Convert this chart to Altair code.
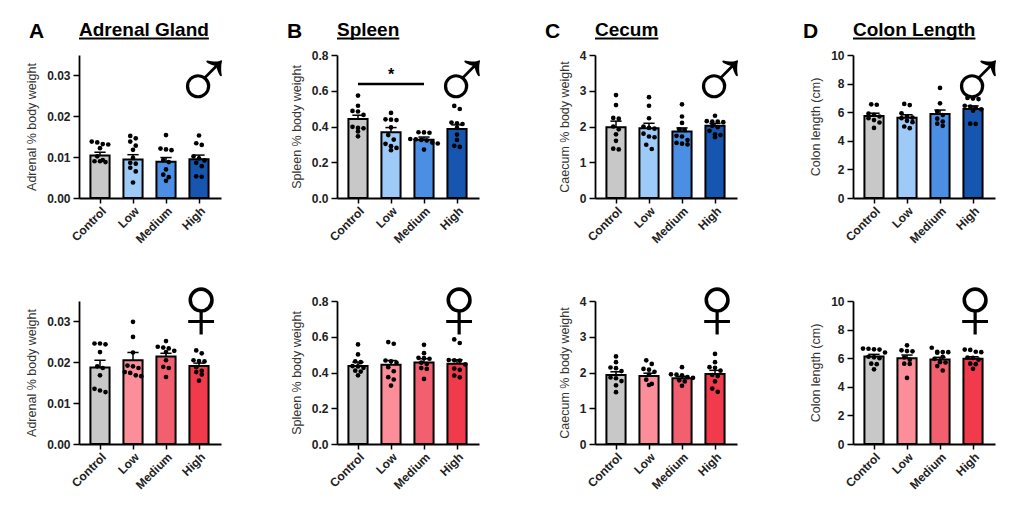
import altair as alt
import pandas as pd

groups = ['Control', 'Low', 'Medium', 'High']

# A - adrenal gland (% body weight)
adrenal_m_mean = [0.0104, 0.0094, 0.0089, 0.0095]
adrenal_m_sem = [0.0008, 0.0012, 0.0010, 0.0010]
adrenal_m_pts = [
    [0.0138, 0.0136, 0.0132, 0.0131, 0.0122, 0.0102, 0.0093, 0.0090, 0.0090, 0.0088],
    [0.0152, 0.0146, 0.0138, 0.0128, 0.0118, 0.0098, 0.0086, 0.0084, 0.0074, 0.0065, 0.0038],
    [0.0154, 0.0121, 0.0119, 0.0117, 0.0093, 0.0088, 0.0070, 0.0057, 0.0051, 0.0042],
    [0.0153, 0.0134, 0.0130, 0.0102, 0.0097, 0.0092, 0.0086, 0.0078, 0.0053, 0.0052],
]
adrenal_f_mean = [0.0187, 0.0205, 0.0214, 0.0191]
adrenal_f_sem = [0.0018, 0.0019, 0.0008, 0.0007]
adrenal_f_pts = [
    [0.0246, 0.0246, 0.0244, 0.0225, 0.0190, 0.0186, 0.0168, 0.0135, 0.0131, 0.0127],
    [0.0299, 0.0262, 0.0224, 0.0192, 0.0190, 0.0186, 0.0176, 0.0174, 0.0168, 0.0166],
    [0.0252, 0.0238, 0.0236, 0.0234, 0.0228, 0.0225, 0.0205, 0.0189, 0.0186, 0.0164],
    [0.0229, 0.0222, 0.0205, 0.0203, 0.0202, 0.0188, 0.0179, 0.0176, 0.0170, 0.0155],
]

# B - spleen (% body weight)
spleen_m_mean = [0.442, 0.368, 0.326, 0.386]
spleen_m_sem = [0.021, 0.026, 0.015, 0.023]
spleen_m_pts = [
    [0.573, 0.516, 0.487, 0.484, 0.465, 0.398, 0.392, 0.390, 0.372, 0.345],
    [0.476, 0.440, 0.438, 0.436, 0.395, 0.352, 0.327, 0.303, 0.290, 0.280, 0.267],
    [0.368, 0.367, 0.365, 0.330, 0.328, 0.325, 0.322, 0.310, 0.305, 0.271],
    [0.515, 0.498, 0.422, 0.418, 0.414, 0.392, 0.355, 0.325, 0.292, 0.286],
]
spleen_f_mean = [0.437, 0.443, 0.456, 0.449]
spleen_f_sem = [0.021, 0.024, 0.021, 0.022]
spleen_f_pts = [
    [0.557, 0.501, 0.462, 0.458, 0.436, 0.434, 0.426, 0.410, 0.405, 0.384],
    [0.570, 0.561, 0.467, 0.463, 0.455, 0.430, 0.407, 0.374, 0.361, 0.327],
    [0.555, 0.508, 0.482, 0.480, 0.477, 0.455, 0.448, 0.425, 0.420, 0.364],
    [0.585, 0.565, 0.470, 0.468, 0.466, 0.445, 0.422, 0.415, 0.383, 0.373],
]
# Control vs Medium, male spleen
spleen_sig = (0, 2, 0.638, 0.688, '*')

# C - cecum (% body weight)
cecum_m_mean = [1.98, 1.95, 1.86, 2.02]
cecum_m_sem = [0.17, 0.14, 0.10, 0.07]
cecum_m_pts = [
    [2.88, 2.60, 2.24, 2.22, 2.00, 1.92, 1.78, 1.60, 1.38, 1.36],
    [2.82, 2.58, 2.23, 2.00, 1.96, 1.94, 1.80, 1.72, 1.70, 1.49, 1.37],
    [2.62, 2.28, 2.10, 1.92, 1.90, 1.74, 1.72, 1.62, 1.54, 1.52, 1.50],
    [2.30, 2.15, 2.14, 2.14, 2.12, 2.02, 1.98, 1.88, 1.78, 1.76, 1.70],
]
cecum_f_mean = [1.93, 1.90, 1.84, 1.96]
cecum_f_sem = [0.09, 0.08, 0.05, 0.10]
cecum_f_pts = [
    [2.45, 2.29, 2.14, 2.12, 2.04, 1.86, 1.84, 1.76, 1.64, 1.45],
    [2.34, 2.24, 2.10, 2.08, 2.02, 1.94, 1.80, 1.68, 1.65],
    [2.15, 1.95, 1.94, 1.92, 1.87, 1.85, 1.78, 1.75, 1.63],
    [2.52, 2.29, 2.15, 2.13, 2.05, 1.93, 1.90, 1.75, 1.55, 1.46],
]

# D - colon length (cm)
colon_m_mean = [5.73, 5.62, 5.87, 6.22]
colon_m_sem = [0.20, 0.20, 0.28, 0.22]
colon_m_pts = [
    [6.55, 6.52, 5.90, 5.82, 5.70, 5.58, 5.45, 5.28, 4.90],
    [6.58, 6.50, 5.92, 5.70, 5.62, 5.58, 5.40, 5.30, 5.00, 4.88],
    [7.70, 6.62, 6.05, 5.80, 5.55, 5.35, 5.20, 5.05],
    [7.00, 6.95, 6.92, 6.45, 6.40, 6.30, 6.20, 6.10, 5.20, 5.18],
]
colon_f_mean = [6.12, 6.00, 5.91, 5.96]
colon_f_sem = [0.15, 0.22, 0.15, 0.14]
colon_f_pts = [
    [6.67, 6.66, 6.62, 6.60, 6.40, 6.10, 6.06, 6.00, 5.62, 5.58, 5.22],
    [6.90, 6.55, 6.50, 6.48, 6.05, 5.90, 5.62, 5.60, 4.62],
    [6.73, 6.45, 6.43, 6.42, 6.38, 6.10, 5.95, 5.72, 5.70, 5.45, 5.14],
    [6.60, 6.58, 6.45, 6.42, 6.05, 6.02, 5.90, 5.62, 5.58, 5.26],
]

male_colors = ['#c8c8c8', '#9dcaf6', '#4a8fe3', '#1656b0']
female_colors = ['#c8c8c8', '#fb8e98', '#f2606f', '#f13a4b']

FONT = 'Liberation Sans'
W, H = 142, 143          # plot area of one panel
STEP, FIRST = 33, 21     # px between bar centres, px from y axis to first centre
HALF_BAR = 0.29
HALF_CAP = 0.17
DOT = 5.5                # dot spacing in px

# rough Arial Bold widths, used only to size the title underline
BOLD_W = {'A': .722, 'C': .722, 'G': .778, 'L': .611, 'S': .667, ' ': .278,
          'a': .556, 'c': .556, 'd': .611, 'e': .556, 'g': .611, 'h': .611,
          'l': .278, 'm': .889, 'n': .611, 'o': .611, 'p': .611, 'r': .389,
          't': .333, 'u': .611}

x_scale = alt.Scale(domain=[-FIRST / STEP, (W - FIRST) / STEP], nice=False, zero=False)
label_expr = '[' + ','.join("'%s'" % g for g in groups) + '][datum.value]'
x_axis = alt.Axis(values=[0, 1, 2, 3], labelExpr=label_expr, labelAngle=-45,
                  labelAlign='right', labelBaseline='top', labelOverlap=False,
                  tickSize=5, labelPadding=2, title=None, grid=False)


def swarm(values, px_per_unit):
    # put dots that would overlap side by side, like a prism scatter
    order = sorted(range(len(values)), key=lambda k: -values[k])
    rows = []
    for k in order:
        if rows and (values[rows[-1][0]] - values[k]) * px_per_unit < DOT - 1:
            rows[-1].append(k)
        else:
            rows.append([k])
    offs = [0.0] * len(values)
    for row in rows:
        n = len(row)
        for j, k in enumerate(row):
            offs[k] = (j - (n - 1) / 2) * DOT
    return offs


def panel(means, sems, pts, colors, ymax, yticks, fmt, ytitle, symbol,
          letter=None, title=None, sig=None):
    y_scale = alt.Scale(domain=[0, ymax], nice=False, zero=True)
    y_axis = alt.Axis(values=yticks, format=fmt, title=ytitle, grid=False,
                      labelOverlap=False, tickSize=6, labelPadding=3, titlePadding=8)

    def X(f):
        return alt.X(f, type='quantitative', scale=x_scale, axis=x_axis)

    def Y(f):
        return alt.Y(f, type='quantitative', scale=y_scale, axis=y_axis)

    bars = pd.DataFrame({'i': range(4), 'mean': means, 'sem': sems, 'color': colors})
    bars['base'] = 0.0
    bars['top'] = bars['mean'] + bars['sem']
    bars['x0'] = bars['i'] - HALF_BAR
    bars['x1'] = bars['i'] + HALF_BAR
    bars['c0'] = bars['i'] - HALF_CAP
    bars['c1'] = bars['i'] + HALF_CAP

    rows = []
    for i, vals in enumerate(pts):
        for v, o in zip(vals, swarm(vals, H / ymax)):
            rows.append({'i': i, 'value': v, 'px': i + o / STEP})
    dots = pd.DataFrame(rows)

    layers = [
        alt.Chart(bars).mark_bar(stroke='black', strokeWidth=2).encode(
            x=X('x0'), x2='x1', y=Y('base'), y2='mean',
            color=alt.Color('color:N', scale=None)),
        alt.Chart(bars).mark_rule(color='black', strokeWidth=1.5).encode(
            x=X('i'), y=Y('mean'), y2='top'),
        alt.Chart(bars).mark_rule(color='black', strokeWidth=1.5).encode(
            x=X('c0'), x2='c1', y=Y('top')),
        alt.Chart(dots).mark_circle(color='black', size=22, opacity=1).encode(
            x=X('px'), y=Y('value')),
    ]

    # sex symbol, thin weight
    male = symbol == '♂'
    layers.append(
        alt.Chart(pd.DataFrame({'s': [symbol]})).mark_text(
            font='DejaVu Sans', fontWeight=200, fontSize=86 if male else 90,
            align='center', baseline='middle', color='black').encode(
            text='s:N', x=alt.value(125 if male else 122), y=alt.value(28 if male else 10)))

    if sig is not None:
        a, b, yline, ystar, mark = sig
        sdf = pd.DataFrame({'a': [a], 'b': [b], 'mid': [(a + b) / 2],
                            'y': [yline], 'ys': [ystar], 't': [mark]})
        layers.append(alt.Chart(sdf).mark_rule(color='black', strokeWidth=2.5).encode(
            x=X('a'), x2='b', y=Y('y')))
        layers.append(alt.Chart(sdf).mark_text(
            fontSize=16, fontWeight='bold', baseline='middle', color='black').encode(
            text='t:N', x=X('mid'), y=Y('ys')))

    if title is not None:
        tdf = pd.DataFrame({'letter': [letter], 'title': [title]})
        uw = sum(BOLD_W.get(c, 0.6) for c in title) * 19
        layers.append(alt.Chart(tdf).mark_text(
            fontSize=21, fontWeight='bold', align='left', baseline='alphabetic',
            color='black').encode(text='letter:N', x=alt.value(-50), y=alt.value(-17)))
        layers.append(alt.Chart(tdf).mark_text(
            fontSize=19, fontWeight='bold', align='left', baseline='alphabetic',
            color='black').encode(text='title:N', x=alt.value(0), y=alt.value(-19)))
        layers.append(alt.Chart(tdf).mark_rule(color='black', strokeWidth=2).encode(
            x=alt.value(0), x2=alt.value(uw), y=alt.value(-16.5)))

    return alt.layer(*layers).properties(width=W, height=H)


top = [
    panel(adrenal_m_mean, adrenal_m_sem, adrenal_m_pts, male_colors, 0.035,
          [0, 0.01, 0.02, 0.03], '.2f', 'Adrenal % body weight', '♂', 'A', 'Adrenal Gland'),
    panel(spleen_m_mean, spleen_m_sem, spleen_m_pts, male_colors, 0.8,
          [0, 0.2, 0.4, 0.6, 0.8], '.1f', 'Spleen % body weight', '♂', 'B', 'Spleen',
          sig=spleen_sig),
    panel(cecum_m_mean, cecum_m_sem, cecum_m_pts, male_colors, 4,
          [0, 1, 2, 3, 4], 'd', 'Caecum % body weight', '♂', 'C', 'Cecum'),
    panel(colon_m_mean, colon_m_sem, colon_m_pts, male_colors, 10,
          [0, 2, 4, 6, 8, 10], 'd', 'Colon length (cm)', '♂', 'D', 'Colon Length'),
]
bottom = [
    panel(adrenal_f_mean, adrenal_f_sem, adrenal_f_pts, female_colors, 0.035,
          [0, 0.01, 0.02, 0.03], '.2f', 'Adrenal % body weight', '♀'),
    panel(spleen_f_mean, spleen_f_sem, spleen_f_pts, female_colors, 0.8,
          [0, 0.2, 0.4, 0.6, 0.8], '.1f', 'Spleen % body weight', '♀'),
    panel(cecum_f_mean, cecum_f_sem, cecum_f_pts, female_colors, 4,
          [0, 1, 2, 3, 4], 'd', 'Caecum % body weight', '♀'),
    panel(colon_f_mean, colon_f_sem, colon_f_pts, female_colors, 10,
          [0, 2, 4, 6, 8, 10], 'd', 'Colon length (cm)', '♀'),
]

# the symbol text boxes reach past the last column; trim that empty space on the right
chart = alt.concat(
    *(top + bottom), columns=4, spacing={'row': 103, 'column': 116}, bounds='flush'
).properties(
    padding={'left': 17, 'top': 13, 'right': -14, 'bottom': 5}
).configure(
    font=FONT
).configure_view(
    stroke=None
).configure_axis(
    domainColor='black', tickColor='black', domainWidth=1.8, tickWidth=1.5,
    labelColor='#222', labelFontWeight='bold', labelFontSize=12, labelFont=FONT,
    titleColor='#333', titleFontWeight='normal', titleFontSize=12.5, titleFont=FONT
)

chart.save('out.html', embed_options={'renderer': 'svg', 'actions': False})
